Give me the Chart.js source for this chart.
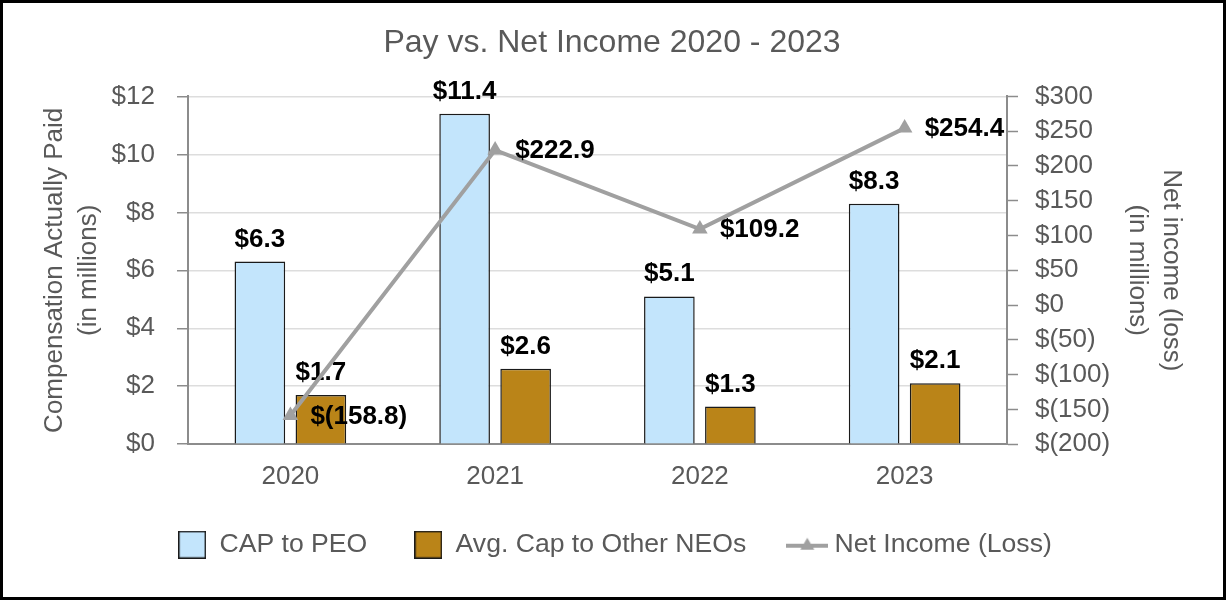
<!DOCTYPE html>
<html>
<head>
<meta charset="utf-8">
<title>Pay vs. Net Income 2020 - 2023</title>
<script src="https://cdn.jsdelivr.net/npm/chart.js@4.4.1/dist/chart.umd.min.js"></script>
<style>
    html, body { margin: 0; padding: 0; background: #fff; }
    #frame {
        position: relative;
        width: 1226px;
        height: 600px;
        box-sizing: border-box;
        border: 3px solid #000;
        background: #fff;
    }
</style>
</head>
<body>
<div id="frame">
    <canvas id="payChart"></canvas>
</div>
<script>
// 数据
const years = ['2020', '2021', '2022', '2023'];
const capToPeo = [6.3, 11.4, 5.1, 8.3];
const avgCapOtherNeos = [1.7, 2.6, 1.3, 2.1];
const netIncome = [-158.8, 222.9, 109.2, 254.4];
const seriesNames = ['CAP to PEO', 'Avg. Cap to Other NEOs', 'Net Income (Loss)'];
const compRange = [0, 12, 2];       // min, max, step
const incomeRange = [-200, 300, 50];

const FONT = "'Liberation Sans', Arial, sans-serif";
const TEXT_GREY = '#595959';
const AXIS_GREY = '#8C8C8C';
const BLUE = '#C3E5FC';
const GOLD = '#BA8418';
const LINE_GREY = '#A0A0A0';

// 金额格式化
function money(v) {
    return v < 0 ? '$(' + Math.abs(v).toFixed(1) + ')' : '$' + v.toFixed(1);
}
function tickMoney(v) {
    return v < 0 ? '$(' + Math.abs(v) + ')' : '$' + v;
}

// 图例图标
function boxIcon(fill) {
    const c = document.createElement('canvas');
    c.width = 28;
    c.height = 28;
    const g = c.getContext('2d');
    g.fillStyle = fill;
    g.fillRect(0, 0, 28, 28);
    g.strokeStyle = '#1a1a1a';
    g.lineWidth = 1.5;
    g.strokeRect(0.75, 0.75, 26.5, 26.5);
    return c;
}
function lineIcon(color) {
    const c = document.createElement('canvas');
    c.width = 42;
    c.height = 20;
    const g = c.getContext('2d');
    g.strokeStyle = color;
    g.lineWidth = 4;
    g.beginPath();
    g.moveTo(0, 11);
    g.lineTo(42, 11);
    g.stroke();
    g.fillStyle = color;
    g.beginPath();
    g.moveTo(21, 3);
    g.lineTo(28, 15);
    g.lineTo(14, 15);
    g.closePath();
    g.fill();
    return c;
}
const legendIcons = [boxIcon(BLUE), boxIcon(GOLD), lineIcon(LINE_GREY)];

// 数值标签
const valueLabels = {
    id: 'valueLabels',
    afterDatasetDraw(chart, args) {
        if (args.meta.type !== 'bar') return;
        const ctx = chart.ctx;
        const data = chart.data.datasets[args.index].data;
        ctx.save();
        ctx.font = 'bold 26px ' + FONT;
        ctx.fillStyle = '#000';
        ctx.textAlign = 'center';
        ctx.textBaseline = 'alphabetic';
        args.meta.data.forEach((bar, i) => {
            ctx.fillText(money(data[i]), bar.x, bar.y - 15);
        });
        ctx.restore();
    },
    afterDatasetsDraw(chart) {
        const ctx = chart.ctx;
        chart.data.datasets.forEach((ds, di) => {
            const meta = chart.getDatasetMeta(di);
            if (meta.type !== 'line') return;
            ctx.save();
            ctx.font = 'bold 26px ' + FONT;
            ctx.fillStyle = '#000';
            ctx.textAlign = 'left';
            ctx.textBaseline = 'middle';
            meta.data.forEach((pt, i) => {
                ctx.fillText(money(ds.data[i]), pt.x + 20, pt.y + 1);
            });
            ctx.restore();
        });
    }
};

// 图例上移，让它贴近x轴标签
const legendShift = {
    id: 'legendShift',
    afterLayout(chart) {
        if (!chart.legend) return;
        chart.legend.top -= 25;
        chart.legend.bottom -= 25;
        chart.legend.left += 3;
        chart.legend.right += 3;
    }
};

Chart.defaults.font.family = FONT;
Chart.defaults.color = TEXT_GREY;

new Chart(document.getElementById('payChart'), {
    type: 'bar',
    data: {
        labels: years,
        datasets: [
            {
                label: seriesNames[0],
                data: capToPeo,
                backgroundColor: BLUE,
                borderColor: '#1a1a1a',
                borderWidth: 1.5,
                yAxisID: 'y',
                order: 1,
                categoryPercentage: 0.596,
                barPercentage: 0.83
            },
            {
                label: seriesNames[1],
                data: avgCapOtherNeos,
                backgroundColor: GOLD,
                borderColor: '#1a1a1a',
                borderWidth: 1.5,
                yAxisID: 'y',
                order: 2,
                categoryPercentage: 0.596,
                barPercentage: 0.83
            },
            {
                type: 'line',
                label: seriesNames[2],
                data: netIncome,
                borderColor: LINE_GREY,
                backgroundColor: LINE_GREY,
                borderWidth: 4,
                tension: 0,
                pointStyle: 'triangle',
                pointRadius: 9,
                pointBorderWidth: 0,
                pointBackgroundColor: LINE_GREY,
                yAxisID: 'y1',
                order: 0
            }
        ]
    },
    options: {
        responsive: true,
        maintainAspectRatio: false,
        animation: false,
        events: [],
        layout: {
            padding: { left: 29, right: 31, top: 0, bottom: 4 }
        },
        plugins: {
            title: {
                display: true,
                text: 'Pay vs. Net Income 2020 - 2023',
                color: TEXT_GREY,
                font: { size: 32, weight: 'normal' },
                padding: { top: 21, bottom: 34 }
            },
            legend: {
                position: 'bottom',
                labels: {
                    usePointStyle: true,
                    pointStyleWidth: 28,
                    boxHeight: 26,
                    padding: 47,
                    color: TEXT_GREY,
                    font: { size: 26.6 },
                    sort: (a, b) => a.datasetIndex - b.datasetIndex,
                    generateLabels(chart) {
                        const items = Chart.defaults.plugins.legend.labels.generateLabels(chart);
                        items.forEach(it => {
                            it.pointStyle = legendIcons[it.datasetIndex];
                            it.rotation = 0;
                        });
                        return items;
                    }
                }
            },
            tooltip: { enabled: false }
        },
        scales: {
            x: {
                grid: { display: false, drawTicks: false },
                border: { color: AXIS_GREY, width: 2 },
                ticks: { color: TEXT_GREY, font: { size: 26 }, padding: 17 }
            },
            y: {
                position: 'left',
                min: compRange[0],
                max: compRange[1],
                ticks: {
                    stepSize: compRange[2],
                    color: TEXT_GREY,
                    font: { size: 26 },
                    padding: 22,
                    callback: v => tickMoney(v)
                },
                grid: { color: '#DDDDDD', lineWidth: 1.5, tickColor: AXIS_GREY, tickLength: 11, tickWidth: 1.5 },
                border: { color: AXIS_GREY, width: 2 },
                title: {
                    display: true,
                    text: ['Compensation Actually Paid', '(in millions)'],
                    color: TEXT_GREY,
                    font: { size: 26, lineHeight: 1.3 },
                    padding: { top: 6, bottom: 0 }
                },
                afterFit(scale) { scale.width = 156; }
            },
            y1: {
                position: 'right',
                min: incomeRange[0],
                max: incomeRange[1],
                ticks: {
                    stepSize: incomeRange[2],
                    color: TEXT_GREY,
                    font: { size: 26 },
                    padding: 17,
                    callback: v => tickMoney(v)
                },
                grid: { drawOnChartArea: false, tickColor: AXIS_GREY, tickLength: 11, tickWidth: 1.5 },
                border: { color: AXIS_GREY, width: 2 },
                title: {
                    display: true,
                    text: ['Net income (loss)', '(in millions)'],
                    color: TEXT_GREY,
                    font: { size: 26, lineHeight: 1.3 },
                    padding: { top: 4, bottom: 0 }
                },
                afterFit(scale) { scale.width = 185; }
            }
        }
    },
    plugins: [valueLabels, legendShift]
});
</script>
</body>
</html>
